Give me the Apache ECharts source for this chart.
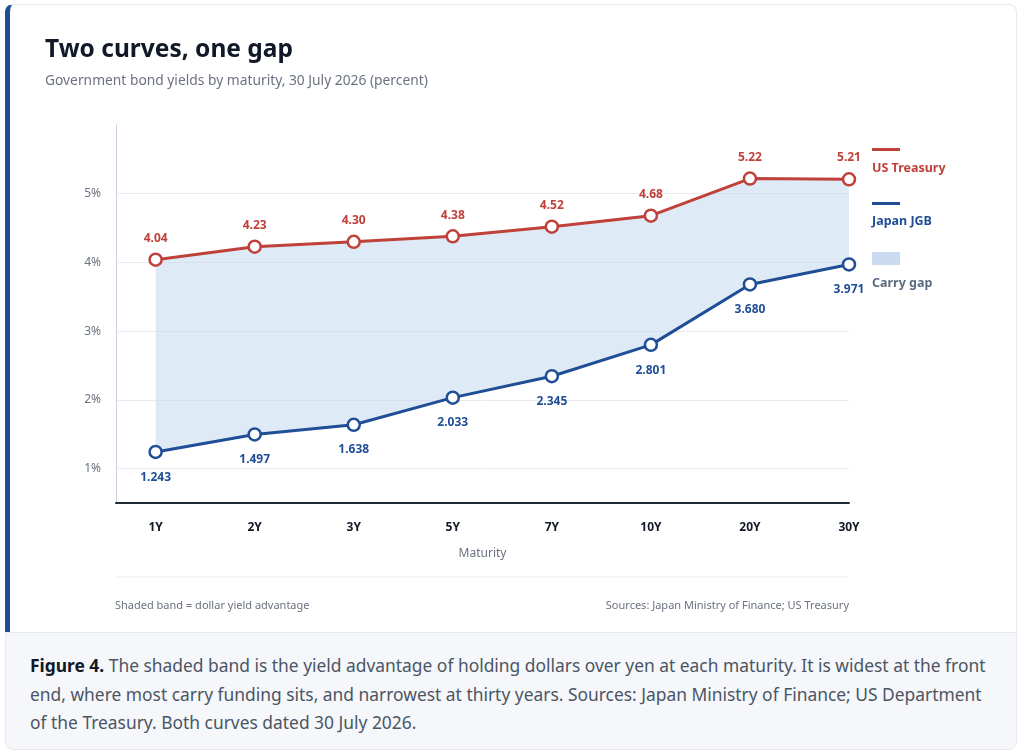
<!DOCTYPE html>
<html>
<head>
<meta charset="utf-8">
<script src="https://cdn.jsdelivr.net/npm/echarts@6/dist/echarts.min.js"></script>
<style>
  html, body { margin: 0; padding: 0; background: #ffffff; font-family: "Noto Sans", sans-serif; }
  #page { position: relative; width: 1024px; height: 753px; overflow: hidden; }
  #card { position: absolute; left: 5px; top: 4px; width: 1012px; height: 628px; background: #ffffff;
          border: 1px solid #e6e9ef; border-left: 5px solid #1f4e96; border-bottom: none;
          border-radius: 8px 8px 0 0; box-sizing: border-box; }
  #chart { position: absolute; left: 0; top: 0; width: 1024px; height: 632px; }
  #caption { position: absolute; left: 5px; top: 632px; width: 1012px; height: 118px; box-sizing: border-box;
             background: #f5f7fb; border: 1px solid #e6e9ef; border-radius: 0 0 8px 8px;
             padding: 18px 24px 0 24px; font-size: 17.4px; line-height: 28.7px; color: #4b5563; }
  #caption b { color: #111827; }
</style>
</head>
<body>
<div id="page">
  <div id="card"></div>
  <div id="chart"></div>
  <div id="caption"><b>Figure 4.</b> The shaded band is the yield advantage of holding dollars over yen at each maturity. It is widest at the front end, where most carry funding sits, and narrowest at thirty years. Sources: Japan Ministry of Finance; US Department of the Treasury. Both curves dated 30 July 2026.</div>
</div>
<script>
var maturities = ['1Y', '2Y', '3Y', '5Y', '7Y', '10Y', '20Y', '30Y'];
var usTreasury = [4.04, 4.23, 4.30, 4.38, 4.52, 4.68, 5.22, 5.21];
var japanJgb = [1.243, 1.497, 1.638, 2.033, 2.345, 2.801, 3.680, 3.971];
var yTicks = [1, 2, 3, 4, 5];

var red = '#c0413a';
var blue = '#1f4e96';
var font = '"Noto Sans", sans-serif';

function pairs(vals) {
    return vals.map(function (v, i) { return [i, v]; });
}

var chart = echarts.init(document.getElementById('chart'));

var option = {
    backgroundColor: 'transparent',
    animation: false,
    title: {
        text: 'Two curves, one gap',
        subtext: 'Government bond yields by maturity, 30 July 2026 (percent)',
        left: 40,
        top: 33,
        itemGap: 11,
        textStyle: { fontFamily: font, fontSize: 24.5, fontWeight: 'bold', color: '#111827' },
        subtextStyle: { fontFamily: font, fontSize: 13.8, color: '#6b7280' }
    },
    grid: { left: 116, right: 175, top: 125, bottom: 129 },
    xAxis: {
        type: 'value',
        min: -0.4,
        max: 7,
        name: 'Maturity',
        nameLocation: 'middle',
        nameGap: 45,
        nameTextStyle: { fontFamily: font, fontSize: 12, color: '#6b7280' },
        axisLine: { show: true, onZero: false, lineStyle: { color: '#1f2937', width: 2 } },
        axisTick: { show: false },
        splitLine: { show: false },
        axisLabel: {
            customValues: [0, 1, 2, 3, 4, 5, 6, 7],
            margin: 19,
            fontFamily: font,
            fontSize: 12,
            fontWeight: 'bold',
            color: '#111827',
            formatter: function (v) { return maturities[v]; }
        }
    },
    yAxis: {
        type: 'value',
        min: 0.5,
        max: 6,
        axisLine: { show: true, onZero: false, lineStyle: { color: '#c9d3e0', width: 1 } },
        axisTick: { show: false, customValues: yTicks },
        splitLine: { show: true, lineStyle: { color: '#e8ecf1', width: 1 } },
        axisLabel: {
            customValues: yTicks,
            margin: 15,
            fontFamily: font,
            fontSize: 12,
            color: '#6b7280',
            formatter: function (v) { return v + '%'; }
        }
    },
    series: [
        {
            type: 'custom',
            name: 'Carry gap',
            silent: true,
            z: 1,
            data: [0],
            renderItem: function (params, api) {
                var pts = [];
                for (var i = 0; i < usTreasury.length; i++) pts.push(api.coord([i, usTreasury[i]]));
                for (var j = japanJgb.length - 1; j >= 0; j--) pts.push(api.coord([j, japanJgb[j]]));
                return {
                    type: 'polygon',
                    shape: { points: pts },
                    style: { fill: 'rgba(197, 216, 241, 0.55)' }
                };
            }
        },
        {
            type: 'line',
            name: 'US Treasury',
            z: 3,
            data: pairs(usTreasury),
            symbol: 'circle',
            symbolSize: 12,
            lineStyle: { color: red, width: 3 },
            itemStyle: { color: '#ffffff', borderColor: red, borderWidth: 2.5 },
            label: {
                show: true,
                position: 'top',
                distance: 8,
                fontFamily: font,
                fontSize: 12,
                fontWeight: 'bold',
                color: red,
                formatter: function (p) { return p.value[1].toFixed(2); }
            }
        },
        {
            type: 'line',
            name: 'Japan JGB',
            z: 3,
            data: pairs(japanJgb),
            symbol: 'circle',
            symbolSize: 12,
            lineStyle: { color: blue, width: 3 },
            itemStyle: { color: '#ffffff', borderColor: blue, borderWidth: 2.5 },
            label: {
                show: true,
                position: 'bottom',
                distance: 12,
                fontFamily: font,
                fontSize: 12,
                fontWeight: 'bold',
                color: blue,
                formatter: function (p) { return p.value[1].toFixed(3); }
            }
        }
    ],
    graphic: [
        { type: 'rect', left: 872, top: 148, shape: { width: 28, height: 3 }, style: { fill: red } },
        { type: 'text', left: 872, top: 162, style: { text: 'US Treasury', fill: red, font: 'bold 12.5px ' + font } },
        { type: 'rect', left: 872, top: 202, shape: { width: 28, height: 3 }, style: { fill: blue } },
        { type: 'text', left: 872, top: 215, style: { text: 'Japan JGB', fill: blue, font: 'bold 12.5px ' + font } },
        { type: 'rect', left: 872, top: 252, shape: { width: 28, height: 13 }, style: { fill: '#c9daf1' } },
        { type: 'text', left: 872, top: 277, style: { text: 'Carry gap', fill: '#5b6b80', font: 'bold 12.5px ' + font } },
        { type: 'line', shape: { x1: 116, y1: 577, x2: 849, y2: 577 }, style: { stroke: '#e8ecf1', lineWidth: 1 } },
        { type: 'text', left: 115, top: 600, style: { text: 'Shaded band = dollar yield advantage', fill: '#6b7280', font: '11px ' + font } },
        { type: 'text', right: 175, top: 600, style: { text: 'Sources: Japan Ministry of Finance; US Treasury', fill: '#6b7280', font: '11px ' + font } }
    ]
};

chart.setOption(option);
window.addEventListener('resize', function () {
    chart.resize();
});
</script>
</body>
</html>
